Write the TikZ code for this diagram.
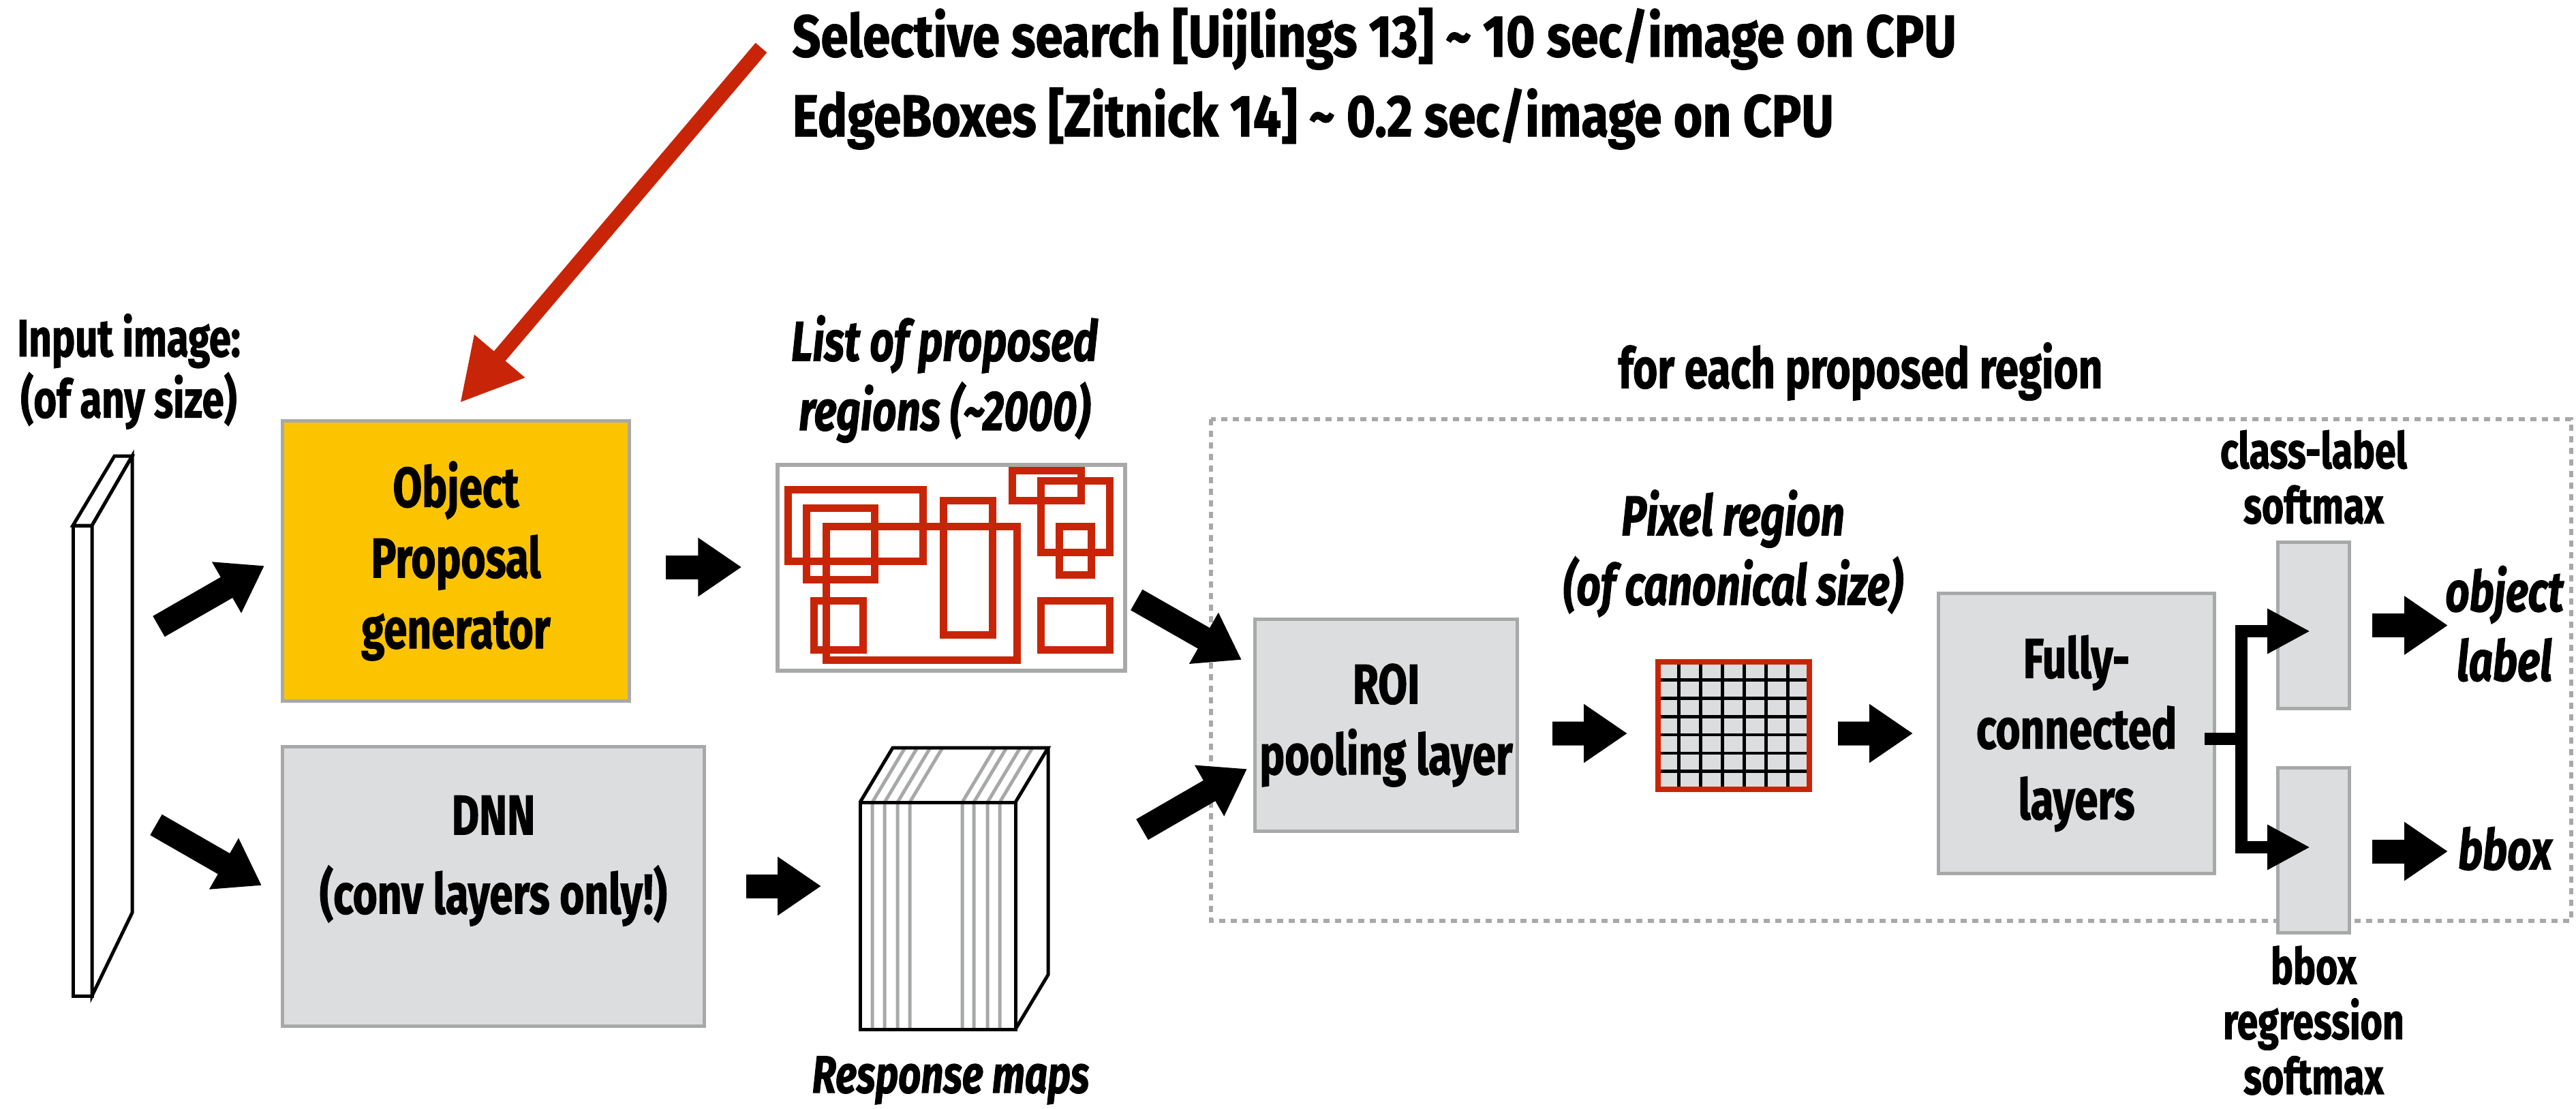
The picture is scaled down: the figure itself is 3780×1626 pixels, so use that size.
\documentclass[tikz,border=0pt]{standalone}
\usepackage{fontspec}
\setmainfont{Fira Sans}
\newfontfamily\condfont[FakeStretch=0.75, BoldFeatures={FakeBold=1.2}, BoldItalicFeatures={FakeBold=1.2}]{Fira Sans}
\newfontfamily\headfont[FakeStretch=0.84, BoldFeatures={FakeBold=1.2}]{Fira Sans}
\usetikzlibrary{arrows.meta,calc}
\definecolor{edgegray}{RGB}{167,169,168}
\definecolor{boxgray}{RGB}{220,221,223}
\definecolor{propyellow}{RGB}{252,196,0}
\definecolor{boxred}{RGB}{200,37,8}

\begin{document}
\begin{tikzpicture}[x=0.1mm,y=-0.1mm,line join=miter,
  lbl/.style={font=\condfont\bfseries\fontsize{23.5}{29.5}\selectfont, align=center, inner sep=0},
  ilbl/.style={font=\condfont\bfseries\itshape\fontsize{23.5}{29}\selectfont, align=center, inner sep=0},
  slbl/.style={font=\condfont\bfseries\fontsize{21}{23}\selectfont, align=center, inner sep=0},
  headtext/.style={font=\headfont\bfseries\fontsize{24.7}{28}\selectfont, anchor=west, inner sep=0},
  stage/.style={draw=edgegray, fill=boxgray, line width=0.5mm, inner sep=0, align=center,
    font=\condfont\bfseries\fontsize{23.5}{29.5}\selectfont},
  blockarrow/.style={line width=3.5mm, -{Triangle[length=6.4mm,width=8.2mm]}},
  brancharrow/.style={line width=1.8mm, -{Triangle[length=6.3mm,width=6.2mm]}},
  proposal/.style={draw=boxred, line width=1.1mm},
  mapline/.style={draw=edgegray, line width=0.5mm},
]
\useasboundingbox (0,0) rectangle (3780,1626);

% per-region frame
\draw[edgegray, line width=0.6mm, dash pattern=on 0.9mm off 0.8mm] (1777,615) rectangle (3773,1351);
\node[lbl] (frametitle) at (2730,545) {for each proposed region};

% top annotation
\node[headtext] (sel) at (1162,57) {Selective search [Uijlings 13] \textasciitilde{} 10 sec/image on CPU};
\node[headtext] (edge) at (1162,174) {EdgeBoxes [Zitnick 14] \textasciitilde{} 0.2 sec/image on CPU};

% input image slab
\node[slbl, font=\condfont\bfseries\fontsize{22}{25.5}\selectfont] (inlbl) at (189,545) {Input image:\\(of any size)};
\filldraw[fill=white, draw=black, line width=0.5mm] (107,771) rectangle (135,1461);
\filldraw[fill=white, draw=black, line width=0.5mm] (107,771) -- (168,669) -- (194,669) -- (135,771) -- cycle;
\filldraw[fill=white, draw=black, line width=0.5mm] (135,771) -- (194,669) -- (194,1339) -- (135,1461) -- cycle;
\coordinate (in1) at (233,919);
\coordinate (in2) at (229,1210);

% stages
\node[stage, fill=propyellow, minimum width=50.9mm, minimum height=41.1mm] (op) at (669,823) {Object\\Proposal\\generator};
\node[stage, minimum width=61.9mm, minimum height=41mm] (dnn) at (724,1300) {};
\node[lbl, font=\condfont\bfseries\fontsize{23.5}{33}\selectfont] (dnnlbl) at ($(dnn.center)+(0,-37)$) {DNN\\(conv layers only!)};
\node[stage, minimum width=38.5mm, minimum height=31.1mm] (roi) at (2034,1064) {ROI\\pooling layer};
\node[stage, minimum width=40.5mm, minimum height=41.1mm] (fc) at (3047,1076) {Fully-\\connected\\layers};
\node[stage, minimum width=10.5mm, minimum height=24.4mm] (cls) at (3395,917.5) {};
\node[stage, minimum width=10.5mm, minimum height=24.2mm] (reg) at (3395,1247.5) {};
\node[slbl] (clslbl) at (3395,700) {class-label\\softmax};
\node[slbl] (reglbl) at (3395,1497) {bbox\\regression\\softmax};

% list of proposed regions
\node[ilbl] (listlbl) at (1386,556) {List of proposed\\regions (\textasciitilde 2000)};
\node[draw=edgegray, line width=0.55mm, minimum width=51mm, minimum height=30.2mm, inner sep=0] (list) at (1396,833) {};
\draw[proposal] (1156.4,718.2) rectangle (1354.7,823.5);
\draw[proposal] (1183.2,745.5) rectangle (1283.6,850.2);
\draw[proposal] (1212.7,772.2) rectangle (1492.1,968.8);
\draw[proposal] (1384.1,734.5) rectangle (1456.5,931.2);
\draw[proposal] (1194.7,881.5) rectangle (1266.7,953.2);
\draw[proposal] (1485.5,690.5) rectangle (1586.3,734.5);
\draw[proposal] (1527.6,705.5) rectangle (1628.4,810.2);
\draw[proposal] (1554,772.2) rectangle (1601.6,843.8);
\draw[proposal] (1527.6,881.5) rectangle (1628.4,953.2);

% response maps volume
\node[minimum width=22.8mm, minimum height=33.3mm, inner sep=0, outer sep=0] (maps) at (1376,1343.5) {};
\fill[white] (maps.north west) -- ++(48,-80) -- ++(228,0) -- ++(0,333) -- (maps.south east) -- (maps.south west) -- cycle;
\foreach \o in {18,36,55,73,150,167,187,205}
  \draw[mapline] ($(maps.south west)+(\o,0)$) -- ($(maps.north west)+(\o,0)$) -- ++(48,-80);
\draw[line width=0.5mm] (maps.north west) rectangle (maps.south east);
\draw[line width=0.5mm] (maps.north west) -- ++(48,-80) -- ++(228,0) -- (maps.north east);
\draw[line width=0.5mm] ($(maps.north east)+(48,-80)$) -- ++(0,333) -- (maps.south east);
\node[ilbl, font=\condfont\bfseries\itshape\fontsize{22}{26}\selectfont] (mapslbl) at (1395,1585) {Response maps};

% canonical pixel region
\node[ilbl] (pixlbl) at (2543,812) {Pixel region\\(of canonical size)};
\node[draw=boxred, fill=boxgray, line width=0.8mm, minimum width=22.2mm, minimum height=18.7mm, inner sep=0] (grid) at (2544,1064.5) {};
\foreach \k in {0,...,5} {
  \draw[line width=0.45mm] (2463.3+32*\k,975) -- (2463.3+32*\k,1154);
  \draw[line width=0.45mm] (2437,997.7+26.8*\k) -- (2651,997.7+26.8*\k);
}

% outputs
\node[ilbl] (objlbl) at (3675,915) {object\\label};
\node[ilbl] (bboxlbl) at (3676,1245) {bbox};

% connectors
\draw[boxred, line width=2.2mm, -{Triangle[length=9mm,width=9.1mm]}] ($(sel.west)+(-45,13)$) -- ($(op.north)+(6,-24)$);
\draw[blockarrow] (in1) -- ($(op.west)+(-24,7)$);
\draw[blockarrow] (in2) -- ($(dnn.west)+(-28,-1)$);
\draw[blockarrow] ($(op.east)+(51,9)$) -- ($(list.west)+(-50,-1)$);
\draw[blockarrow] ($(dnn.east)+(59,0)$) -- (dnn.east -| {$(maps.west)+(-57,0)$});
\draw[blockarrow] ($(list.east)+(14,47)$) -- ($(roi.west)+(-17,-96)$);
\draw[blockarrow] ($(maps.east)+(186,-126.5)$) -- ($(roi.west)+(-9,64)$);
\draw[blockarrow] ($(roi.east)+(49,12)$) -- ($(grid.west)+(-41,11.5)$);
\draw[blockarrow] ($(grid.east)+(38,11.5)$) -- ($(fc.west)+(-35,0)$);
\coordinate (split) at ($(fc.east)+(37,8)$);
\draw[line width=1.8mm] ($(fc.east)+(-17,8)$) -- (split);
\draw[brancharrow] (split) |- ($(cls.center)+(-5,8.5)$);
\draw[brancharrow] (split) |- ($(reg.center)+(-5,-4.5)$);
\draw[blockarrow] ($(cls.east)+(31,0)$) -- ($(cls.east)+(142,0)$);
\draw[blockarrow] ($(reg.east)+(31,1.5)$) -- ($(reg.east)+(142,1.5)$);
\end{tikzpicture}
\end{document}
